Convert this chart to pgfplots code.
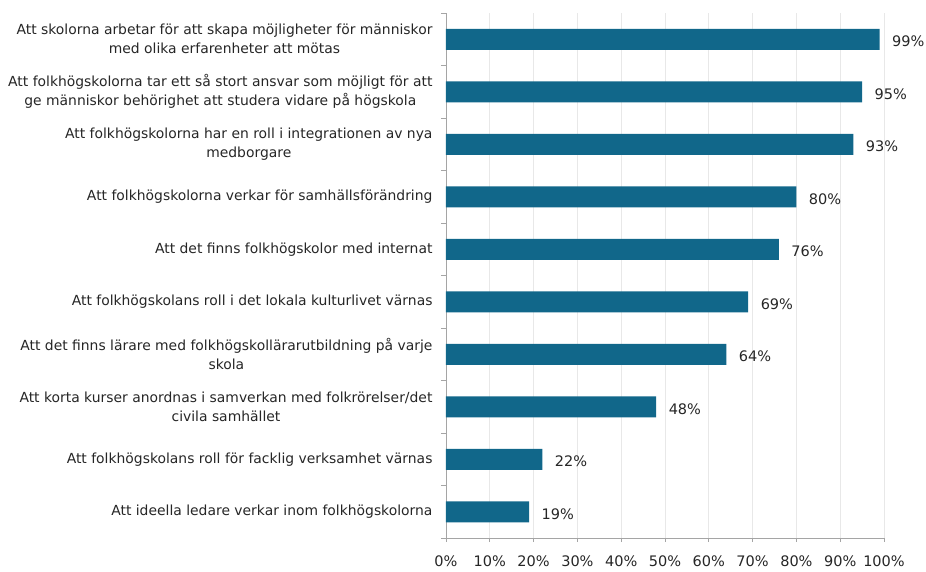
\documentclass[border=0pt]{standalone}
\usepackage{pgfplots}
\pgfplotsset{compat=1.18}
\usepackage{fontspec}
\setmainfont{DejaVu Sans}
\definecolor{barc}{RGB}{17,103,138}
\definecolor{axc}{RGB}{165,165,165}
\definecolor{gridc}{RGB}{232,232,232}
\definecolor{txt}{RGB}{38,38,38}
\begin{document}
\begin{tikzpicture}
\begin{axis}[
  at={(0pt,0pt)}, anchor=south west,
  scale only axis, width=438pt, height=525pt,
  xbar, bar width=21pt,
  xmin=0, xmax=100, xtick={0,10,...,100},
  ymin=-0.5, ymax=9.5,
  ytick={0,...,9},
  yticklabels={
    {Att ideella ledare verkar inom folkhögskolorna},
    {Att folkhögskolans roll för facklig verksamhet värnas},
    {Att korta kurser anordnas i samverkan med folkrörelser/det\\civila samhället},
    {Att det finns lärare med folkhögskollärarutbildning på varje\\skola},
    {Att folkhögskolans roll i det lokala kulturlivet värnas},
    {Att det finns folkhögskolor med internat},
    {Att folkhögskolorna verkar för samhällsförändring},
    {Att folkhögskolorna har en roll i integrationen av nya\\medborgare},
    {Att folkhögskolorna tar ett så stort ansvar som möjligt för att\\ge människor behörighet att studera vidare på högskola},
    {Att skolorna arbetar för att skapa möjligheter för människor\\med olika erfarenheter att mötas}
  },
  minor ytick={-0.5,0.5,...,9.5},
  axis x line*=bottom, axis y line*=left,
  axis line style={axc, line width=0.8pt},
  tick align=outside, tick pos=left,
  major tick length=4pt, minor tick length=5pt,
  major y tick style={draw=none},
  minor y tick style={axc, line width=0.8pt},
  major x tick style={axc, line width=0.8pt},
  xmajorgrids, major x grid style={gridc, line width=0.8pt},
  /pgf/number format/assume math mode=true,
  xticklabel={\pgfmathprintnumber{\tick}\%},
  xticklabel style={font=\fontsize{14.5}{16}\selectfont, text=txt, yshift=-10pt},
  yticklabel style={font=\fontsize{13.9}{19}\selectfont, align=center, text=txt, xshift=-6pt},
  nodes near coords={\pgfmathprintnumber{\pgfplotspointmeta}\%},
  nodes near coords style={font=\fontsize{14.5}{16}\selectfont, text=txt, anchor=west, xshift=9pt, yshift=-2pt},
]
\addplot[fill=barc, draw=none] coordinates {
  (19,0) (22,1) (48,2) (64,3) (69,4) (76,5) (80,6) (93,7) (95,8) (99,9)
};
\end{axis}
\pgfresetboundingbox
\path[use as bounding box] (-446pt,-33pt) rectangle (480pt,538pt);
\end{tikzpicture}
\end{document}
